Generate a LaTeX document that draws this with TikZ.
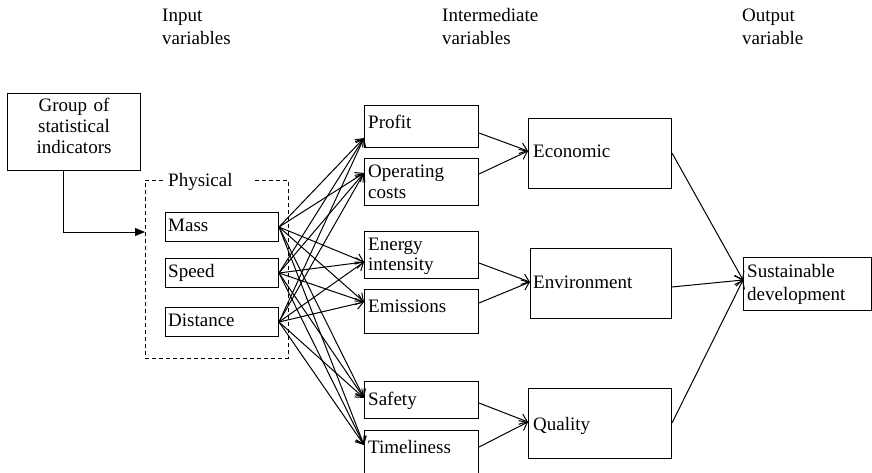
\documentclass[tikz,border=0pt]{standalone}
\usepackage{fontspec}
\setmainfont{Liberation Serif}
\usetikzlibrary{arrows.meta,calc}

\begin{document}
\begin{tikzpicture}[x=1pt,y=-1pt,
  box/.style={draw,line width=1pt,inner sep=0pt,anchor=north west},
  lbl/.style={inner sep=0pt,anchor=base west,align=left,text width=120pt,
    font=\fontsize{19}{20.5}\selectfont},
  head/.style={inner sep=0pt,anchor=base west,align=left,text width=150pt,
    font=\fontsize{19}{23}\selectfont},
  link/.style={line width=1pt,-{Straight Barb[length=7pt,width=11pt,line width=1pt]}},
  feed/.style={line width=1pt,-{Triangle[length=10pt,width=8pt]}}]

\useasboundingbox (0,0) rectangle (872,473);

% column headings
\node[head] (hin)  at (162,22) {Input\\variables};
\node[head] (hmid) at (442,22) {Intermediate\\variables};
\node[head] (hout) at (742,22) {Output\\variable};

% source of the data
\node[box,minimum width=133pt,minimum height=77pt] (group) at (7,93) {};
\node[inner sep=0pt,anchor=base,align=center,text width=130pt,
  font=\fontsize{19}{21}\selectfont] (groupT) at (74,112)
  {Group of\\statistical\\indicators};

% physical input variables
\draw[line width=0.9pt,dash pattern=on 4pt off 3pt]
  (255,180) -- (288,180) -- (288,358) -- (145,358) -- (145,180) -- (164,180);
\coordinate (physIn) at (145,232);
\node[head] (physT) at (168,186) {Physical};

\node[box,minimum width=113pt,minimum height=29pt] (mass)  at (165,212) {};
\node[box,minimum width=113pt,minimum height=29pt] (speed) at (165,258) {};
\node[box,minimum width=113pt,minimum height=29pt] (dist)  at (165,307) {};
\node[lbl] (massT)  at ($(mass.north west)+(3,19)$)  {Mass};
\node[lbl] (speedT) at ($(speed.north west)+(3,19)$) {Speed};
\node[lbl] (distT)  at ($(dist.north west)+(3,19)$)  {Distance};

% intermediate variables
\node[box,minimum width=114pt,minimum height=42pt] (profit) at (364,105) {};
\node[box,minimum width=114pt,minimum height=47pt] (opc)    at (364,158) {};
\node[box,minimum width=114pt,minimum height=47pt] (energy) at (364,231) {};
\node[box,minimum width=114pt,minimum height=44pt] (emis)   at (364,289) {};
\node[box,minimum width=114pt,minimum height=37pt] (safety) at (364,381) {};
\node[box,minimum width=114pt,minimum height=46pt] (timel)  at (364,430) {};
\node[lbl] (profitT) at ($(profit.north west)+(4,24)$) {Profit};
\node[lbl] (opcT)    at ($(opc.north west)+(4,20)$)    {Operating\\costs};
\node[lbl] (energyT) at ($(energy.north west)+(4,19)$) {Energy\\intensity};
\node[lbl] (emisT)   at ($(emis.north west)+(4,23)$)   {Emissions};
\node[lbl] (safetyT) at ($(safety.north west)+(4,24)$) {Safety};
\node[lbl] (timelT)  at ($(timel.north west)+(4,23)$)  {Timeliness};

% aggregated groups
\node[box,minimum width=143pt,minimum height=70pt] (econ)    at (528,118) {};
\node[box,minimum width=141pt,minimum height=70pt] (env)     at (530,248) {};
\node[box,minimum width=143pt,minimum height=70pt] (quality) at (528,388) {};
\node[lbl] (econT)    at ($(econ.north west)+(5,40)$)    {Economic};
\node[lbl] (envT)     at ($(env.north west)+(3,40)$)     {Environment};
\node[lbl] (qualityT) at ($(quality.north west)+(5,42)$) {Quality};

% output variable
\node[box,minimum width=128pt,minimum height=53pt] (sust) at (743,257) {};
\node[lbl,font=\fontsize{19}{23}\selectfont] (sustT) at ($(sust.north west)+(4,20)$)
  {Sustainable\\development};

% connection ports
\coordinate (profitIn) at ($(profit.north west)+(0,33)$);
\coordinate (opcIn)    at ($(opc.north west)+(0,15)$);
\coordinate (energyIn) at ($(energy.north west)+(0,31)$);
\coordinate (emisIn)   at ($(emis.north west)+(0,13)$);
\coordinate (safetyIn) at ($(safety.north west)+(0,17)$);
\coordinate (timelIn)  at ($(timel.north west)+(0,15)$);

\coordinate (profitOut) at ($(profit.north east)+(0,28)$);
\coordinate (opcOut)    at ($(opc.north east)+(0,16)$);
\coordinate (energyOut) at ($(energy.north east)+(0,32)$);
\coordinate (emisOut)   at ($(emis.north east)+(0,14)$);
\coordinate (safetyOut) at ($(safety.north east)+(0,22)$);
\coordinate (timelOut)  at ($(timel.north east)+(0,17)$);

\coordinate (econIn)  at ($(econ.north west)+(0,33)$);
\coordinate (envIn)   at ($(env.north west)+(0,34)$);
\coordinate (qualIn)  at ($(quality.north west)+(0,34)$);
\coordinate (econOut) at ($(econ.north east)+(0,35)$);
\coordinate (envOut)  at ($(env.north east)+(0,39)$);
\coordinate (qualOut) at ($(quality.north east)+(0,35)$);
\coordinate (sustIn)  at ($(sust.north west)+(0,23)$);

% data feed into the physical variables
\draw[feed] (group.south -| 63,0) |- (physIn);

% every input variable affects every intermediate variable
\foreach \src in {mass,speed,dist}
  \foreach \dst in {profitIn,opcIn,energyIn,emisIn,safetyIn,timelIn}
    \draw[link] (\src.east) -- (\dst);

% intermediate variables to groups
\draw[link] (profitOut) -- (econIn);
\draw[link] (opcOut)    -- (econIn);
\draw[link] (energyOut) -- (envIn);
\draw[link] (emisOut)   -- (envIn);
\draw[link] (safetyOut) -- (qualIn);
\draw[link] (timelOut)  -- (qualIn);

% groups to the output variable
\draw[link] (econOut) -- (sustIn);
\draw[link] (envOut)  -- (sustIn);
\draw[link] (qualOut) -- (sustIn);
\end{tikzpicture}
\end{document}
